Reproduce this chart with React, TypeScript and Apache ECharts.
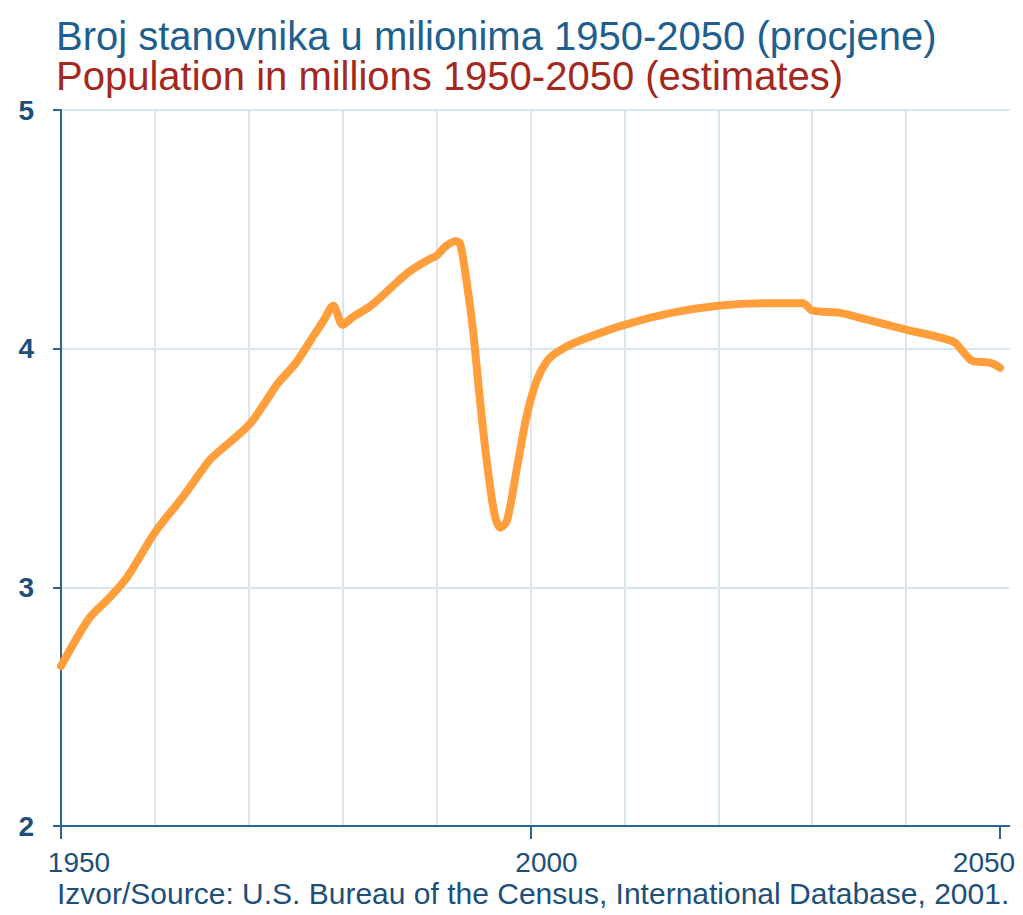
import React, { useEffect, useRef } from "react";
import * as echarts from "echarts";

const titleLine1 = "Broj stanovnika u milionima 1950-2050 (procjene)";
const titleLine2 = "Population in millions 1950-2050 (estimates)";
const sourceText = "Izvor/Source: U.S. Bureau of the Census, International Database, 2001.";

const years = [
  1950, 1953, 1955, 1957, 1960, 1963, 1965, 1966, 1970,
  1972, 1973, 1975, 1977, 1978, 1979, 1980, 1981, 1983, 1985,
  1987, 1989, 1990, 1991, 1992, 1992.5, 1993.2, 1993.9, 1994.6, 1995.4,
  1996.2, 1996.8, 1997.5, 1998.6, 1999.6, 2000.7, 2001.8, 2003, 2005, 2010,
  2015, 2020, 2025, 2029, 2030, 2033, 2035, 2040, 2045, 2046,
  2047, 2049, 2050,
];
const population = [
  2.67, 2.87, 2.95, 3.04, 3.23, 3.38, 3.49, 3.54, 3.68,
  3.79, 3.85, 3.94, 4.06, 4.12, 4.18, 4.1, 4.13, 4.18, 4.25,
  4.32, 4.37, 4.39, 4.43, 4.45, 4.44, 4.28, 4.07, 3.79, 3.51,
  3.3, 3.25, 3.28, 3.51, 3.72, 3.87, 3.95, 3.99, 4.03, 4.1,
  4.15, 4.18, 4.19, 4.19, 4.16, 4.15, 4.13, 4.08, 4.03, 3.99,
  3.95, 3.94, 3.92,
];
const xGridValues = [1950, 1960, 1970, 1980, 1990, 2000, 2010, 2020, 2030, 2040, 2050];
const xTickLabels = [1950, 2000, 2050];
const yTickLabels = [2, 3, 4, 5];

export default function App() {
  const ref = useRef<HTMLDivElement>(null);
  useEffect(() => {
    if (!ref.current) return;
    const chart = echarts.init(ref.current, null, { renderer: "svg" });
    const font = "'Liberation Sans', Arial, sans-serif";
    const axisColor = "#2a6592";
    const labelColor = "#1d4f7a";
    const gridColor = "#d8e7ef";
    chart.setOption({
      animation: false,
      backgroundColor: "#ffffff",
      textStyle: { fontFamily: font },
      title: [
        {
          text: titleLine1,
          left: 51,
          top: 11,
          textStyle: { fontFamily: font, fontSize: 40, fontWeight: "normal", color: "#1f5f8f" },
        },
        {
          text: titleLine2,
          left: 51,
          top: 51,
          textStyle: { fontFamily: font, fontSize: 40, fontWeight: "normal", color: "#a3281e" },
        },
        {
          text: sourceText,
          left: 52,
          top: 873,
          textStyle: { fontFamily: font, fontSize: 30, fontWeight: "normal", color: "#1d4f7a" },
        },
      ],
      grid: { left: 61, top: 110, right: 13.6, bottom: 89, containLabel: false },
      xAxis: [
        {
          type: "value",
          min: 1950,
          max: 2051,
          interval: 10,
          position: "bottom",
          axisLine: { show: false },
          axisTick: { show: false, customValues: xGridValues },
          axisLabel: { show: false },
          splitLine: {
            show: true,
            showMinLine: false,
            showMaxLine: false,
            lineStyle: { color: gridColor, width: 2 },
          },
        },
        {
          type: "value",
          min: 1950,
          max: 2051,
          interval: 10,
          position: "bottom",
          offset: 0,
          axisLine: { show: true, onZero: false, lineStyle: { color: axisColor, width: 2 } },
          axisTick: {
            show: true,
            customValues: xTickLabels,
            length: 13,
            lineStyle: { color: axisColor, width: 2 },
          },
          axisLabel: {
            customValues: xTickLabels,
            margin: 22,
            fontFamily: font,
            fontSize: 28,
            color: labelColor,
            formatter: (v: number) => {
              if (v === 1950) return "{a|" + v + "}";
              if (v === 2000) return "{b|" + v + "}";
              return "{c|" + v + "}";
            },
            rich: {
              a: { fontFamily: font, fontSize: 28, color: labelColor, padding: [0, 0, 0, 36] },
              b: { fontFamily: font, fontSize: 28, color: labelColor, padding: [0, 0, 0, 32] },
              c: { fontFamily: font, fontSize: 28, color: labelColor, padding: [0, 32, 0, 0] },
            },
          },
          splitLine: { show: false },
        },
      ],
      yAxis: {
        type: "value",
        min: 2,
        max: 5,
        interval: 1,
        axisLine: { show: true, onZero: false, lineStyle: { color: axisColor, width: 2 } },
        axisTick: { show: true, length: 8, lineStyle: { color: axisColor, width: 2 } },
        axisLabel: {
          margin: 27,
          fontFamily: font,
          fontSize: 28,
          fontWeight: "bold",
          color: labelColor,
          customValues: yTickLabels,
        },
        splitLine: {
          show: true,
          showMinLine: false,
          lineStyle: { color: gridColor, width: 2 },
        },
      },
      series: [
        {
          type: "line",
          xAxisIndex: 0,
          data: years.map((y, i) => [y, population[i]]),
          smooth: 0.3,
          showSymbol: false,
          symbol: "none",
          lineStyle: { color: "#ff9e3a", width: 8, cap: "round", join: "round" },
          z: 3,
        },
      ],
    });
    return () => chart.dispose();
  }, []);
  return (
    <div
      ref={ref}
      style={{ position: "fixed", left: 0, top: 0, width: 1023, height: 915 }}
    />
  );
}
